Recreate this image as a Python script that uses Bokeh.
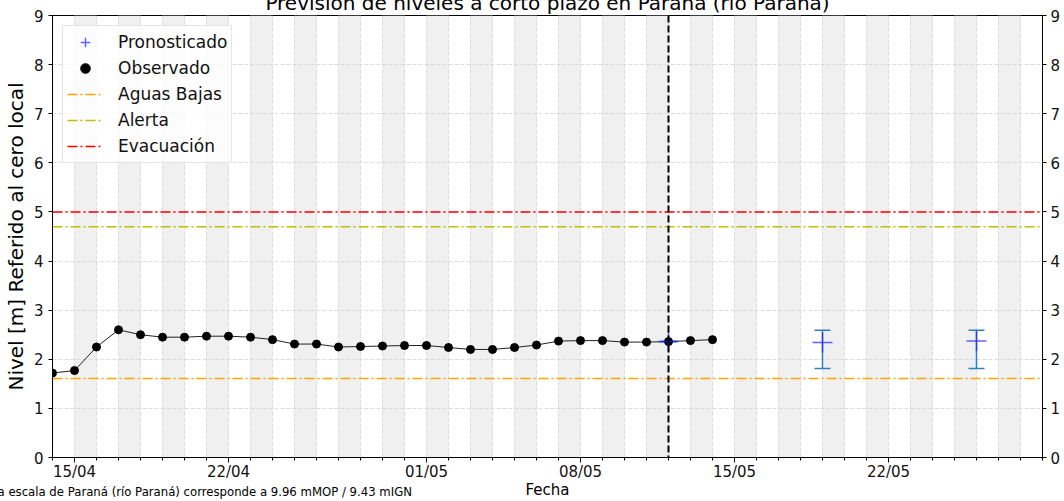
import pandas as pd
from bokeh.plotting import figure
from bokeh.models import (ColumnDataSource, Range1d, LinearAxis, FixedTicker, DatetimeTickFormatter,
                          Legend, LegendItem, Span, Whisker, TeeHead, Label)
from bokeh.embed import file_html
from bokeh.resources import INLINE

# ---------------- data ----------------
obs_dates = ["2024-04-14", "2024-04-15", "2024-04-16", "2024-04-17", "2024-04-18", "2024-04-19",
             "2024-04-20", "2024-04-21", "2024-04-22", "2024-04-23", "2024-04-24", "2024-04-25",
             "2024-04-26", "2024-04-27", "2024-04-28", "2024-04-29", "2024-04-30", "2024-05-01",
             "2024-05-02", "2024-05-03", "2024-05-04", "2024-05-05", "2024-05-06", "2024-05-07",
             "2024-05-08", "2024-05-09", "2024-05-10", "2024-05-11", "2024-05-12", "2024-05-13",
             "2024-05-14"]
obs_levels = [1.72, 1.77, 2.25, 2.60, 2.50, 2.45,
              2.45, 2.47, 2.47, 2.45, 2.40, 2.31,
              2.31, 2.25, 2.26, 2.27, 2.28, 2.28,
              2.24, 2.20, 2.20, 2.24, 2.29, 2.37,
              2.38, 2.38, 2.35, 2.35, 2.36, 2.38,
              2.40]

fc_dates = ["2024-05-12", "2024-05-19", "2024-05-26"]
fc_levels = [2.36, 2.34, 2.37]
fc_lower = [2.36, 1.81, 1.81]
fc_upper = [2.36, 2.59, 2.59]

thr_names = ["Aguas Bajas", "Alerta", "Evacuación"]
thr_levels = [1.61, 4.70, 5.00]
thr_colors = ["#ffa500", "#bfbf00", "#ff0000"]

now_date = "2024-05-12"
x_start, x_end = "2024-04-14", "2024-05-29"
y_min, y_max = 0, 9
major_tick_dates = ["2024-04-15", "2024-04-22", "2024-05-01", "2024-05-08", "2024-05-15", "2024-05-22"]
y_ticks = [0, 1, 2, 3, 4, 5, 6, 7, 8, 9]

title_text = "Previsión de niveles a corto plazo en Paraná (río Paraná)"
ylabel_text = "Nivel [m] Referido al cero local"
xlabel_text = "Fecha"
note_text = "a escala de Paraná (río Paraná) corresponde a 9.96 mMOP / 9.43 mIGN"

FONT = "DejaVu Sans"

# layout constants (canvas is taller than the window; the top part is shifted off-page)
TOP = 90          # canvas px above the frame
SHIFT = TOP - 15  # frame top lands at page y = 15
FRAME_L = 52


def ms(d):
    return pd.Timestamp(d).value // 10**6


xs, xe = pd.Timestamp(x_start), pd.Timestamp(x_end)
day_list = pd.date_range(xs, xe, freq="D")
day_ms = [ms(d) for d in day_list]
major_ms = [ms(d) for d in major_tick_dates]

p = figure(width=1064, height=501 + SHIFT, x_axis_type="datetime",
           x_range=Range1d(xs, xe), y_range=Range1d(y_min, y_max),
           output_backend="svg", toolbar_location=None,
           min_border_left=FRAME_L, min_border_right=22, min_border_top=TOP, min_border_bottom=44)
p.styles = {"margin-top": f"-{SHIFT}px"}
p.background_fill_color = "white"
p.border_fill_color = "white"
p.outline_line_color = "black"
p.outline_line_width = 1

# alternate-day shading
band_left = [d for i, d in enumerate(day_list[1:-1]) if i % 2 == 0]
band_right = [d + pd.Timedelta(days=1) for d in band_left]
p.quad(left=band_left, right=band_right, bottom=y_min, top=y_max,
       fill_color="#f0f0f0", line_alpha=0, level="image")

# axes
p.xaxis.ticker = FixedTicker(ticks=major_ms, minor_ticks=day_ms)
p.xaxis.formatter = DatetimeTickFormatter(days="%d/%m", months="%d/%m", hours="%d/%m")
p.xaxis.major_tick_out = 5
p.xaxis.major_tick_in = 0
p.xaxis.minor_tick_out = 3
p.xaxis.minor_tick_in = 0
p.xaxis.major_label_standoff = 0
p.xaxis.axis_label = xlabel_text
p.xaxis.axis_label_text_font_size = "15px"
p.xaxis.axis_label_text_font_style = "normal"
p.xaxis.axis_label_text_font = FONT
p.xaxis.axis_label_text_color = "black"
p.xaxis.axis_label_standoff = -3

p.yaxis.ticker = FixedTicker(ticks=y_ticks)
p.yaxis.major_tick_out = 4
p.yaxis.major_tick_in = 0
p.yaxis.minor_tick_line_color = None
p.yaxis.major_label_standoff = 5
p.yaxis.axis_label = ylabel_text
p.yaxis.axis_label_text_font_size = "20px"
p.yaxis.axis_label_text_font_style = "normal"
p.yaxis.axis_label_text_font = FONT
p.yaxis.axis_label_text_color = "black"
p.yaxis.axis_label_standoff = 3

right_axis = LinearAxis(ticker=FixedTicker(ticks=y_ticks))
right_axis.major_tick_out = 4
right_axis.major_tick_in = 0
right_axis.minor_tick_line_color = None
right_axis.major_label_standoff = 4
p.add_layout(right_axis, "right")

for ax in [p.xaxis[0], p.yaxis[0], right_axis]:
    ax.major_label_text_font = FONT
    ax.major_label_text_font_size = "15px"
    ax.major_label_text_color = "#111111"
    ax.axis_line_color = "black"
    ax.major_tick_line_color = "black"
p.xaxis.minor_tick_line_color = "black"

# grids
p.xgrid.ticker = FixedTicker(ticks=day_ms)
p.xgrid.grid_line_color = "#d4d4d4"
p.xgrid.grid_line_dash = "4 2"
p.xgrid.grid_line_width = 0.8
p.ygrid.ticker = FixedTicker(ticks=y_ticks)
p.ygrid.grid_line_color = "#d4d4d4"
p.ygrid.grid_line_dash = "4 2"
p.ygrid.grid_line_width = 0.8

# threshold lines
thr_renderers = []
for name, lvl, col in zip(thr_names, thr_levels, thr_colors):
    r = p.line(x=[xs, xe], y=[lvl, lvl], line_color=col, line_width=1.5, line_dash="10 3 2 3")
    thr_renderers.append(r)

# observed
obs_src = ColumnDataSource(dict(x=pd.to_datetime(obs_dates), y=obs_levels))
p.line("x", "y", source=obs_src, line_color="#222222", line_width=1)
obs_r = p.scatter("x", "y", source=obs_src, size=8, fill_color="black", line_color="black")

# forecast
fc_src = ColumnDataSource(dict(x=pd.to_datetime(fc_dates), y=fc_levels, lower=fc_lower, upper=fc_upper))
fc_r = p.scatter("x", "y", source=fc_src, marker="cross", size=20, line_color="#2020ff",
                 line_alpha=0.7, line_width=1.5)
wcol = "#2f80c0"
whisk = Whisker(source=fc_src, base="x", upper="upper", lower="lower",
                line_color=wcol, line_width=1.5,
                upper_head=TeeHead(size=16, line_color=wcol, line_width=1.5),
                lower_head=TeeHead(size=16, line_color=wcol, line_width=1.5))
p.add_layout(whisk)

# "now" line
p.add_layout(Span(location=ms(now_date), dimension="height", line_color="black",
                  line_dash="7 3", line_width=2))

# legend
legend = Legend(items=[LegendItem(label="Pronosticado", renderers=[fc_r]),
                       LegendItem(label="Observado", renderers=[obs_r])] +
                      [LegendItem(label=n, renderers=[r]) for n, r in zip(thr_names, thr_renderers)],
                location="top_left", margin=10, padding=4, spacing=2,
                glyph_width=36, glyph_height=24, label_height=20, label_standoff=15,
                label_text_font=FONT, label_text_font_size="17px", label_text_color="#111111",
                border_line_color="#cccccc", border_line_width=1,
                background_fill_color="white", background_fill_alpha=0.8)
p.add_layout(legend)

# texts placed in the top side panel (not clipped to the frame)
title_lbl = Label(x=547 - FRAME_L, y=TOP - (9 + SHIFT) + 7, x_units="screen", y_units="screen",
                  text=title_text, text_align="center", text_baseline="alphabetic",
                  text_font=FONT, text_font_size="20px", text_color="black")
p.add_layout(title_lbl, "above")
H_TITLE = 21
note_lbl = Label(x=-3 - FRAME_L, y=(TOP - H_TITLE) - (494 + SHIFT), x_units="screen", y_units="screen",
                 text=note_text, text_align="left", text_baseline="alphabetic",
                 text_font=FONT, text_font_size="11.7px", text_color="black")
p.add_layout(note_lbl, "above")

open("out.html", "w").write(file_html(p, INLINE))
